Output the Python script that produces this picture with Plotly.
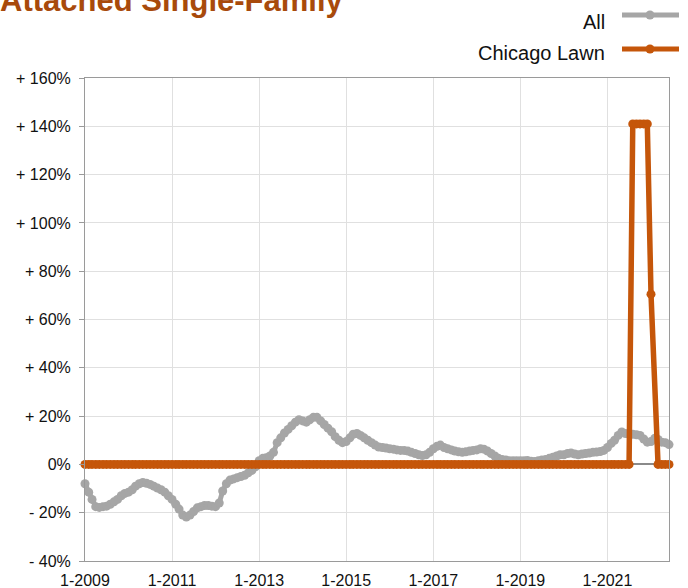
import pandas as pd
import plotly.graph_objects as go

# ---------------- data ----------------
start_month = "2009-01-01"

all_values = [
    # 2009
    -8, -11.5, -14.5, -17.5, -17.8, -17.5, -17.3, -16.5, -15.5, -14.5, -13, -12,
    # 2010
    -11.5, -10.5, -9, -8, -7.5, -7.8, -8.3, -9, -9.8, -10.5, -11.5, -13,
    # 2011
    -14.5, -16.5, -18.5, -21, -21.8, -21, -19.5, -18, -17.5, -17, -17, -17.3,
    # 2012
    -17.5, -16, -11, -8, -6.5, -6, -5.5, -5, -4.5, -3.5, -2.5, -1,
    # 2013
    1.5, 2.5, 2.8, 3.5, 5, 9, 11, 13, 14.5, 16, 17.5, 18.5,
    # 2014
    18, 17.5, 18.5, 19.5, 19.5, 18, 16.5, 15, 13.5, 11.5, 10, 9,
    # 2015
    9.5, 11, 12.5, 12.8, 12, 11, 10, 9, 8, 7.2, 7, 6.8,
    # 2016
    6.5, 6.3, 6, 5.8, 5.8, 5.5, 5, 4.5, 4, 3.7, 4, 5,
    # 2017
    6.5, 7.5, 8, 7, 6.5, 6, 5.5, 5.2, 5, 5.2, 5.5, 5.8,
    # 2018
    6, 6.5, 6.3, 5.5, 4.5, 3.5, 2.5, 2, 1.8, 1.5, 1.5, 1.5,
    # 2019
    1.5, 1.5, 1.6, 1.3, 1.2, 1.5, 1.8, 2, 2.5, 3, 3.5, 4,
    # 2020
    4, 4.5, 4.7, 4.3, 4, 4.3, 4.5, 4.7, 5, 5.1, 5.3, 5.8,
    # 2021
    7, 8.7, 10, 12, 13.4, 12.8, 12.5, 12.5, 12.3, 12, 10.5, 9.2,
    # 2022
    9.5, 10.8, 10.3, 9.2, 9, 8.2,
]

chicago_lawn_values = [
    # 2009
    0, 0, 0, 0, 0, 0, 0, 0, 0, 0, 0, 0,
    # 2010
    0, 0, 0, 0, 0, 0, 0, 0, 0, 0, 0, 0,
    # 2011
    0, 0, 0, 0, 0, 0, 0, 0, 0, 0, 0, 0,
    # 2012
    0, 0, 0, 0, 0, 0, 0, 0, 0, 0, 0, 0,
    # 2013
    0, 0, 0, 0, 0, 0, 0, 0, 0, 0, 0, 0,
    # 2014
    0, 0, 0, 0, 0, 0, 0, 0, 0, 0, 0, 0,
    # 2015
    0, 0, 0, 0, 0, 0, 0, 0, 0, 0, 0, 0,
    # 2016
    0, 0, 0, 0, 0, 0, 0, 0, 0, 0, 0, 0,
    # 2017
    0, 0, 0, 0, 0, 0, 0, 0, 0, 0, 0, 0,
    # 2018
    0, 0, 0, 0, 0, 0, 0, 0, 0, 0, 0, 0,
    # 2019
    0, 0, 0, 0, 0, 0, 0, 0, 0, 0, 0, 0,
    # 2020
    0, 0, 0, 0, 0, 0, 0, 0, 0, 0, 0, 0,
    # 2021
    0, 0, 0, 0, 0, 0, 0, 141, 141, 141, 141, 141,
    # 2022
    70.5, None, 0, 0, 0, 0,
]

series_names = ["All", "Chicago Lawn"]
title_text = "Attached Single-Family"

x_tick_vals = ["2009-01-01", "2011-01-01", "2013-01-01", "2015-01-01",
               "2017-01-01", "2019-01-01", "2021-01-01"]
x_tick_text = ["1-2009", "1-2011", "1-2013", "1-2015", "1-2017", "1-2019", "1-2021"]
y_tick_vals = [-40, -20, 0, 20, 40, 60, 80, 100, 120, 140, 160]
y_tick_text = ["- 40%", "- 20%", "0%", "+ 20%", "+ 40%", "+ 60%", "+ 80%",
               "+ 100%", "+ 120%", "+ 140%", "+ 160%"]

months = pd.date_range(start=start_month, periods=len(all_values), freq="MS")

# ---------------- styling ----------------
W, H = 688, 588
ML, MR, MT, MB = 85, 19, 78, 27
GRAY = "#a6a6a6"
ORANGE = "#c5560a"
TITLE_COLOR = "#a84a0c"
FONT = "Liberation Sans, Arial, Helvetica, sans-serif"

fig = go.Figure()
fig.add_trace(go.Scatter(
    x=months, y=all_values, name=series_names[0], mode="lines+markers",
    line=dict(color=GRAY, width=5), marker=dict(color=GRAY, size=9),
    cliponaxis=False, showlegend=False,
))
fig.add_trace(go.Scatter(
    x=months, y=chicago_lawn_values, name=series_names[1], mode="lines+markers",
    line=dict(color=ORANGE, width=5.5), marker=dict(color=ORANGE, size=9),
    connectgaps=True, cliponaxis=False, showlegend=False,
))

# manual legend (text left of the symbol, as in the reference)
pw = W - ML - MR
ph = H - MT - MB


def px_x(x):
    return (x - ML) / pw


def px_y(y):
    return (H - MB - y) / ph


legend_rows = [(series_names[0], GRAY, 15, 22), (series_names[1], ORANGE, 49, 53)]
shapes = []
annotations = []
for name, col, ly, ty in legend_rows:
    shapes.append(dict(type="line", xref="paper", yref="paper",
                       x0=px_x(622), x1=px_x(679), y0=px_y(ly), y1=px_y(ly),
                       line=dict(color=col, width=5)))
    shapes.append(dict(type="circle", xref="paper", yref="paper",
                       xsizemode="pixel", ysizemode="pixel",
                       xanchor=px_x(650), yanchor=px_y(ly),
                       x0=-4.5, x1=4.5, y0=-4.5, y1=4.5,
                       fillcolor=col, line=dict(color=col, width=0)))
    annotations.append(dict(text=name, xref="paper", yref="paper",
                            x=px_x(607), y=px_y(ty), xanchor="right", yanchor="middle",
                            showarrow=False, font=dict(size=20, color="#111", family=FONT)))

fig.update_layout(
    width=W, height=H,
    margin=dict(l=ML, r=MR, t=MT, b=MB, autoexpand=False),
    paper_bgcolor="white", plot_bgcolor="white",
    font=dict(family=FONT, color="#111", size=16),
    title=dict(text=title_text, x=0, xref="container", xanchor="left",
               y=1, yref="container", yanchor="middle",
               font=dict(size=31, color=TITLE_COLOR, family=FONT, weight="bold")),
    shapes=shapes, annotations=annotations,
    xaxis=dict(
        type="date", range=["2009-01-01", "2022-06-01"],
        tickvals=x_tick_vals, ticktext=x_tick_text,
        showgrid=True, gridcolor="#e0e0e0", gridwidth=1,
        showline=True, linecolor="#9a9a9a", linewidth=1, mirror=True,
        ticks="", tickfont=dict(size=16, color="#111"),
        ticklabelstandoff=5, automargin=False,
        zeroline=False,
    ),
    yaxis=dict(
        range=[-40, 160], tickvals=y_tick_vals, ticktext=y_tick_text,
        showgrid=True, gridcolor="#e0e0e0", gridwidth=1,
        showline=True, linecolor="#9a9a9a", linewidth=1, mirror=True,
        ticks="outside", ticklen=5, tickcolor="#9a9a9a",
        tickfont=dict(size=16, color="#111"),
        ticklabelstandoff=5, automargin=False,
        zeroline=True, zerolinecolor="#8a8a8a", zerolinewidth=1.5,
    ),
)

fig.write_html(
    "out.html",
    config={"displayModeBar": False},
    post_script="document.body.style.margin='0';document.body.style.padding='0';",
)
